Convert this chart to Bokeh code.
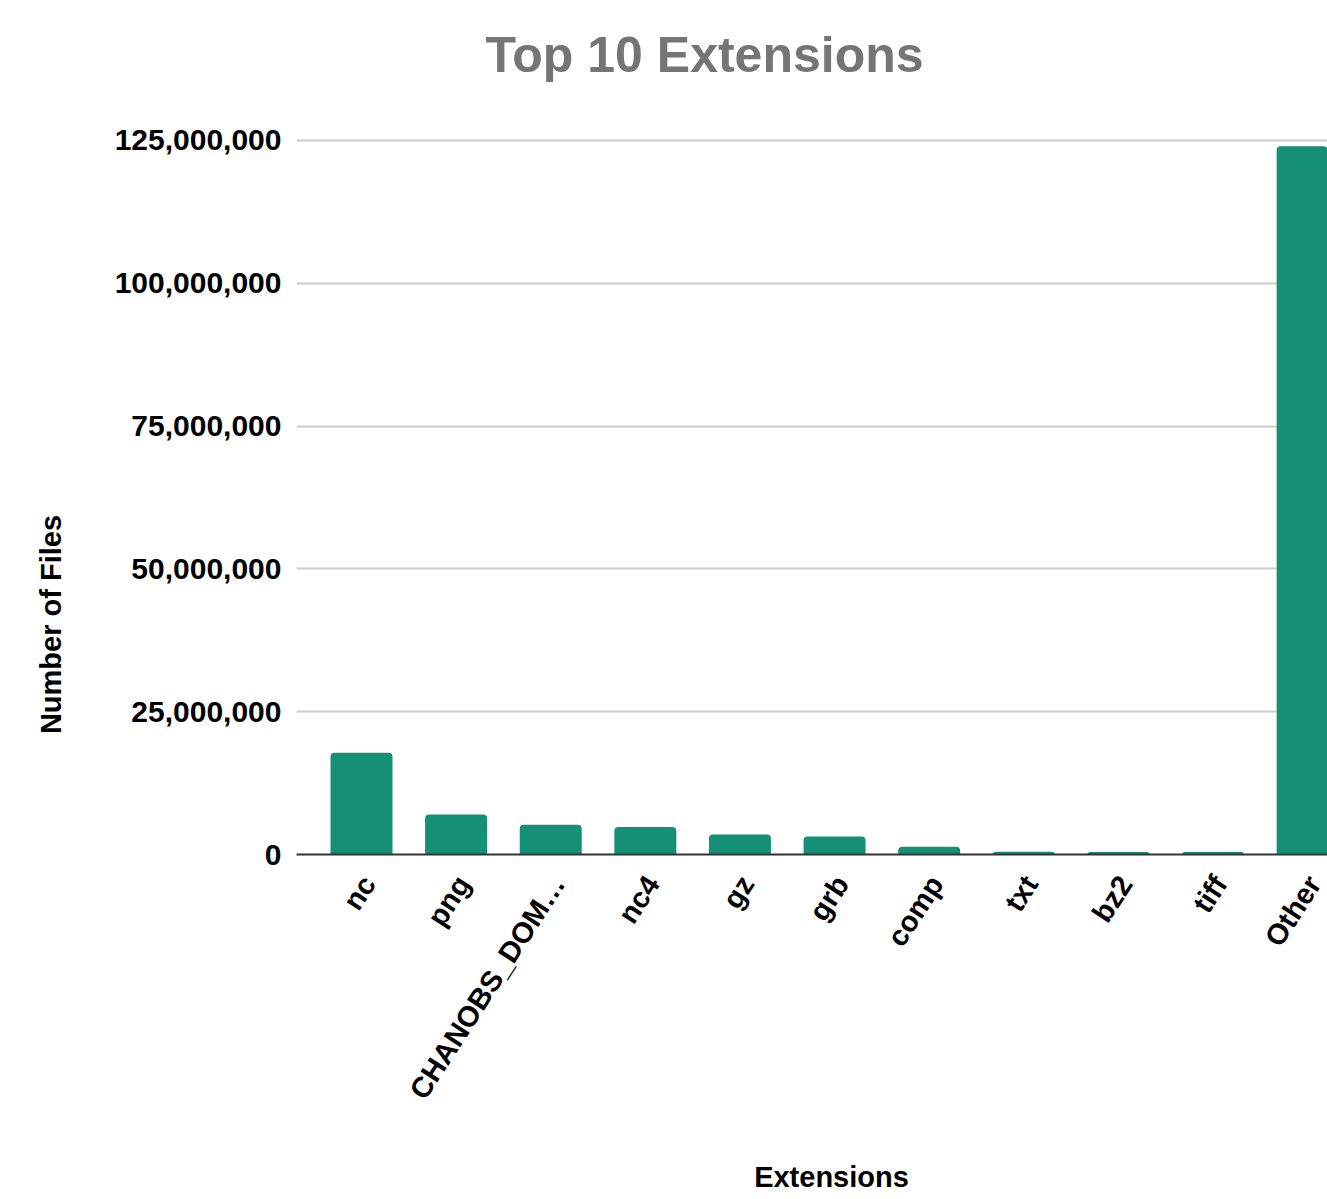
import math
from bokeh.plotting import figure
from bokeh.models import Range1d, FixedTicker, NumeralTickFormatter, Label
from bokeh.embed import file_html
from bokeh.resources import INLINE

# ---- data ----
categories = ["nc", "png", "CHANOBS_DOM\u2026", "nc4", "gz", "grb", "comp", "txt", "bz2", "tiff", "Other"]
file_counts = [17_800_000, 7_000_000, 5_200_000, 4_800_000, 3_500_000, 3_150_000,
               1_350_000, 500_000, 450_000, 450_000, 124_000_000]
y_ticks = [0, 25_000_000, 50_000_000, 75_000_000, 100_000_000, 125_000_000]

FONT = "Liberation Sans"
BAR = "#168f77"

xs = list(range(len(categories)))
LABEL_SHIFT = 0.075  # rotated labels end slightly right of the bar centre
label_pos = [x + LABEL_SHIFT for x in xs]

FRAME_LEFT = 296
FRAME_TOP = 137
p = figure(width=1327, height=1199, output_backend="svg", toolbar_location=None,
           x_range=Range1d(-0.687, 10.21), y_range=Range1d(0, 125_525_000),
           min_border_left=FRAME_LEFT, min_border_top=FRAME_TOP, min_border_bottom=345, min_border_right=0)
p.outline_line_color = None
p.title.visible = False

p.vbar(x=xs, top=file_counts, width=0.655, color=BAR, line_color=None, border_radius=(4, 4, 0, 0))

# y axis
ya = p.yaxis[0]
ya.ticker = FixedTicker(ticks=y_ticks)
ya.formatter = NumeralTickFormatter(format="0,0")
ya.axis_line_color = None
ya.major_tick_line_color = None
ya.major_tick_out = 0
ya.major_tick_in = 0
ya.minor_tick_line_color = None
ya.major_label_text_font = FONT
ya.major_label_text_font_style = "bold"
ya.major_label_text_font_size = "30px"
ya.major_label_text_color = "#000000"
ya.major_label_standoff = 15

# x axis
xa = p.xaxis[0]
xa.ticker = FixedTicker(ticks=label_pos)
xa.major_label_overrides = {t: c for t, c in zip(label_pos, categories)}
xa.axis_line_color = "#333333"
xa.axis_line_width = 2
xa.major_tick_line_color = None
xa.major_tick_out = 0
xa.major_tick_in = 0
xa.minor_tick_line_color = None
xa.major_label_orientation = math.radians(57)
xa.major_label_text_font = FONT
xa.major_label_text_font_style = "bold"
xa.major_label_text_font_size = "29px"
xa.major_label_text_color = "#000000"
xa.major_label_standoff = 24

p.xgrid.grid_line_color = None
p.ygrid.ticker = FixedTicker(ticks=y_ticks)
p.ygrid.grid_line_color = "#cccccc"
p.ygrid.grid_line_width = 2

def txt(text, x, y, size, color, angle=0.0):
    return Label(x=x, y=y, x_units="screen", y_units="screen", text=text, angle=angle,
                 text_font=FONT, text_font_style="bold", text_font_size=size,
                 text_color=color, text_align="center", text_baseline="alphabetic")

# chart title: panel right above the frame (bottom edge = frame top)
p.add_layout(txt("Top 10 Extensions", 704 - FRAME_LEFT, FRAME_TOP - 54, "50px", "#757575"), "above")
# x-axis title: second panel above (bottom edge = frame top - 58)
p.add_layout(txt("Extensions", 831 - FRAME_LEFT, (FRAME_TOP - 58) - 1174, "29px", "#000000"), "above")
# y-axis title: panel left of the y axis
p.add_layout(txt("Number of Files", 51 - 80, 854 - 624, "29px", "#000000", angle=math.pi / 2), "left")

open("out.html", "w").write(file_html(p, INLINE))
